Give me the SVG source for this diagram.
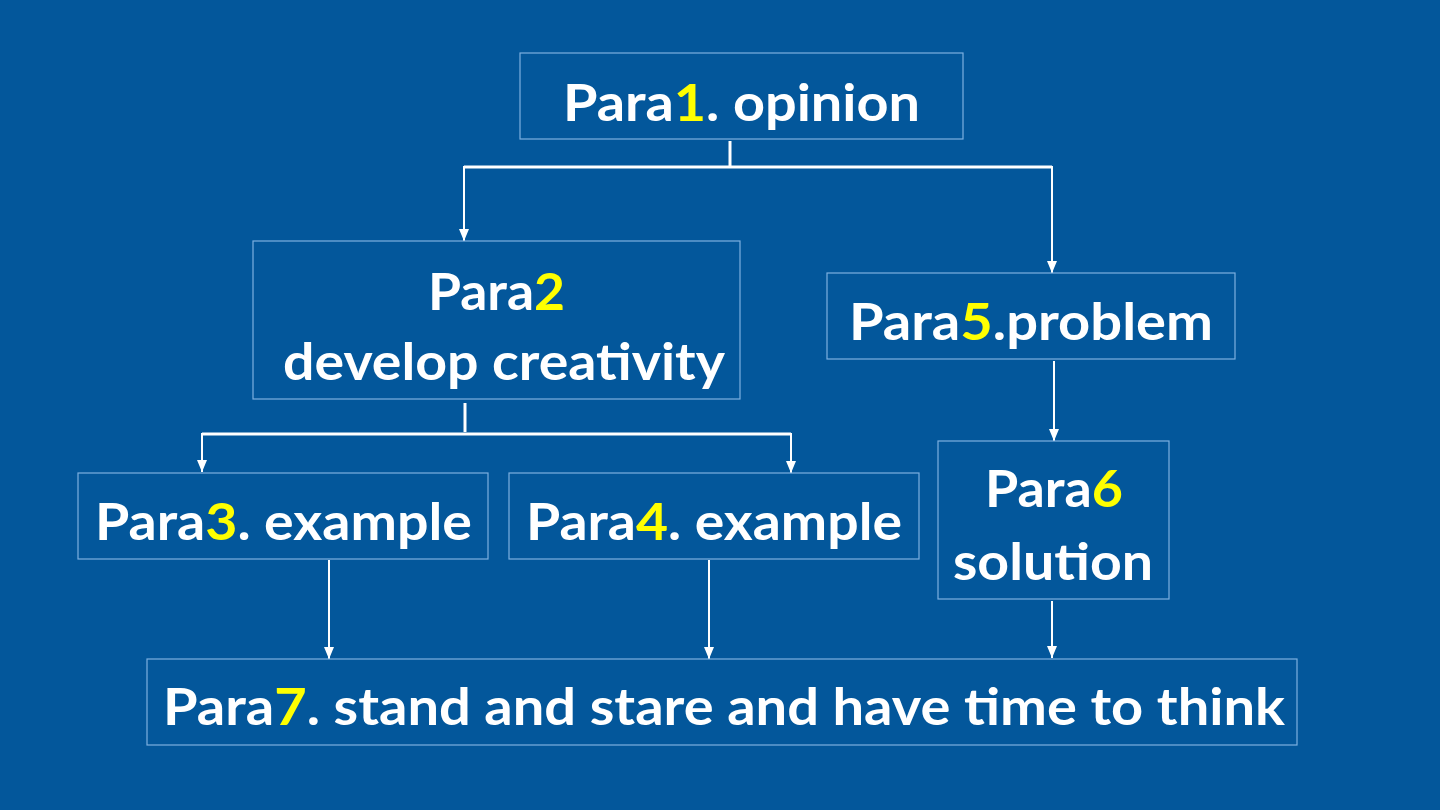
<svg xmlns="http://www.w3.org/2000/svg" width="1440" height="810" viewBox="0 0 1440 810">
<style>
.box{fill:none;stroke:#7DB0E0;stroke-width:1.2}
.t{font-family:Lato,"Open Sans","Liberation Sans",sans-serif;font-weight:bold;font-size:52px;fill:#FFFFFF}
.y{fill:#FFFF00}
.c{fill:none;stroke:#FFFFFF;stroke-width:3}
.a{stroke-width:2}
</style>
<defs>
<marker id="ah" markerWidth="12" markerHeight="10" refX="12" refY="5" orient="auto" markerUnits="userSpaceOnUse" viewBox="0 0 12 10">
<path d="M0,0 L12,5 L0,10 Z" fill="#FFFFFF"/>
</marker>
</defs>
<rect width="1440" height="810" fill="#03579B"/>
<g id="connectors">
<path class="c" d="M730,141 V167"/>
<path class="c" d="M464,167 H1052"/>
<path class="c a" d="M464,166 V241" marker-end="url(#ah)"/>
<path class="c a" d="M1052,166 V273" marker-end="url(#ah)"/>
<path class="c" d="M465,403 V432"/>
<path class="c" d="M202,434 H791"/>
<path class="c a" d="M202,433 V472" marker-end="url(#ah)"/>
<path class="c a" d="M791,433 V473" marker-end="url(#ah)"/>
<path class="c a" d="M1054,361 V441" marker-end="url(#ah)"/>
<path class="c a" d="M1052,601 V658" marker-end="url(#ah)"/>
<path class="c a" d="M329,560 V659" marker-end="url(#ah)"/>
<path class="c a" d="M709,560 V659" marker-end="url(#ah)"/>
</g>
<g id="node1">
<rect class="box" x="520" y="53" width="443" height="86"/>
<text class="t" x="563" y="121" textLength="357" lengthAdjust="spacingAndGlyphs">Para<tspan class="y">1</tspan>. opinion</text>
</g>
<g id="node2">
<rect class="box" x="253" y="241" width="487" height="158"/>
<text class="t" x="428" y="310" textLength="137" lengthAdjust="spacingAndGlyphs">Para<tspan class="y">2</tspan></text>
<text class="t" x="283" y="380" textLength="442" lengthAdjust="spacingAndGlyphs">develop creativity</text>
</g>
<g id="node5">
<rect class="box" x="827" y="273" width="408" height="86"/>
<text class="t" x="849" y="340" textLength="364" lengthAdjust="spacingAndGlyphs">Para<tspan class="y">5</tspan>.problem</text>
</g>
<g id="node6">
<rect class="box" x="938" y="441" width="231" height="158"/>
<text class="t" x="985" y="507" textLength="138" lengthAdjust="spacingAndGlyphs">Para<tspan class="y">6</tspan></text>
<text class="t" x="953" y="580" textLength="200" lengthAdjust="spacingAndGlyphs">solution</text>
</g>
<g id="node3">
<rect class="box" x="78" y="473" width="410" height="86"/>
<text class="t" x="95" y="540" textLength="377" lengthAdjust="spacingAndGlyphs">Para<tspan class="y">3</tspan>. example</text>
</g>
<g id="node4">
<rect class="box" x="509" y="473" width="410" height="86"/>
<text class="t" x="526" y="540" textLength="376" lengthAdjust="spacingAndGlyphs">Para<tspan class="y">4</tspan>. example</text>
</g>
<g id="node7">
<rect class="box" x="147" y="659" width="1150" height="86"/>
<text class="t" x="163" y="725" textLength="1122" lengthAdjust="spacingAndGlyphs">Para<tspan class="y">7</tspan>. stand and stare and have time to think</text>
</g>
</svg>
